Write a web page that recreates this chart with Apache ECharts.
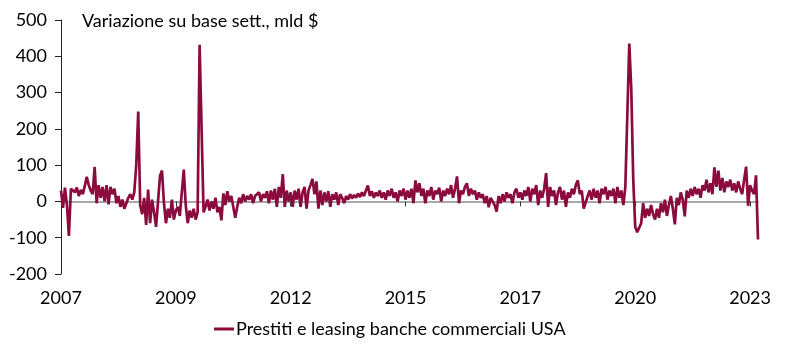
<!DOCTYPE html>
<html>
<head>
<meta charset="utf-8">
<script src="https://cdn.jsdelivr.net/npm/echarts@6/dist/echarts.min.js"></script>
<style>html,body{margin:0;padding:0;background:#fff}#c{width:800px;height:351px}</style>
</head>
<body>
<div id="c"></div>
<script>
// Weekly change in loans & leases, US commercial banks (bn $), sampled ~every 2.4 weeks, 2007 - Mar 2023
var values = [
  30, -18, 38, -10, -95, 35, 40, 25, 38, 15, 32, 20, 42, 68, 45, 30, 20, 95, -5,
  45, 10, 40, 0, 45, -8, 40, 20, 35, -5, 15, -15, 5, -20, -25, 10, 20, 5, 25, 100, 248, -10,
  -35, 10, -65, 33, -60, 5, -30, -70, 0, 70, 85, -5, -60, -20, -45, 5, -50, -25, -15, -40, -35, 88, -10, -60, -25, -45, -20, -50, -30, 432, 437, -30,
  -15, 5, -25, 0, -20, 10, -30, -15, -52, 22, -10, 28, 0, 15, -15, -45, -15, 10, -5, 20, 0, 15, 5, 20, -5, 15, 10, 25, 0, 20, 10, 28, -5, 30, 5, 35, -15, 40, 10, 75, -15, 30, 0, 25,
  -15, 30, 5, 35, -15, 25, 40, -20, 30, 45, 62, 20, 55, -20, 30, -10, 25, 0, 28, -15, 20, 5, 25, -10, 20, 10, -5, 15, 5, 20, 8, 18, 10, 22, 12, 25, 15, 30, 44, 15, 28, 10, 25, 15, 30, 10, 25, 5, 30, 15, 35, 10, 25, 0, 30, 15, 35, 5,
  30, 10, 35, -5, 58, 25, 50, 15, 35, -5, 30, 15, 40, 5, 30, 20, 38, 0, 30, 15, 35, 20, 45, 10, 35, 69, -5, 30, 20, 40, 50, 15, 35, 20, 30, 5, 25, 10, 20, -5, 15, -16, 10, 5, -10, -28, 15, -5, 20, 0, 25, 10, 20, -5, 25, 35, 10, 25,
  5, 30, 15, 40, 0, 35, 20, 45, -10, 30, 10, 35, 78, -15, 40, 15, 30, -10, 25, 40, 5, 30, -15, 25, 10, 35, 20, 45, 58, 20, 30, -20, -22, 15, 30, 5, 35, 10, 30, -5, 35, 20, 40, 5, 30, 15, 35, -5, 40, 10, 30, -10, 40, 45, 435, 310, 60, -70, -85,
  -80, -60, -5, -45, -20, -40, -10, -35, -50, -20, -45, -5, -30, 5, -40, -10, 15, -20, -63, 10, -10, 25, 5, -41, 30, 10, 35, 15, 40, 20, 35, 10, 45, 30, 60, 25, 50, 20, 94, 40, 85, 30, 65, 25, 55, 40, 60, 30, 50, 25, 55, 35, 20, 60, 96, -12, 45, 30, 20, 72, -105
];
var tickLabels = ['2007', '2009', '2012', '2015', '2017', '2020', '2023'];
var labelStep = 58;
var categories = values.map(function (_, i) { return i; });
var seriesName = 'Prestiti e leasing banche commerciali USA';
var titleText = 'Variazione su base sett., mld $';

var chart = echarts.init(document.getElementById('c'), null, {renderer: 'canvas'});
var font = 'Lato, "Noto Sans", sans-serif';
chart.setOption({
  animation: false,
  title: {
    text: titleText, left: 82, top: 12, padding: 0,
    textStyle: {fontFamily: font, fontSize: 18, fontWeight: 'normal', color: '#000'}
  },
  legend: {
    data: [seriesName], left: 214, top: 320, padding: 0, icon: 'rect', itemWidth: 20, itemHeight: 3, itemGap: 4,
    textStyle: {fontFamily: font, fontSize: 18, color: '#000', padding: [0, 0, 0, -3]}
  },
  grid: {left: 61, right: 42, top: 20, bottom: 77, containLabel: false, outerBoundsMode: 'none'},
  xAxis: [{
    type: 'category', data: categories, boundaryGap: false,
    axisLine: {show: true, onZero: true, lineStyle: {color: '#8c8c8c', width: 1.5}},
    axisTick: {show: true, interval: labelStep - 1, length: 5, lineStyle: {color: '#333', width: 1}},
    axisLabel: {show: false},
    splitLine: {show: false}
  }, {
    type: 'category', data: categories, boundaryGap: false, position: 'bottom',
    axisLine: {show: false, onZero: false},
    axisTick: {show: false},
    axisLabel: {
      show: true, interval: labelStep - 1, margin: 15, fontFamily: font, fontSize: 18, color: '#000',
      formatter: function (v, i) { return tickLabels[Math.round(i / labelStep)] || ''; }
    },
    splitLine: {show: false}
  }],
  yAxis: {
    type: 'value', min: -200, max: 500, interval: 100,
    axisLine: {show: true, lineStyle: {color: '#222', width: 1}},
    axisTick: {show: true, length: 6, lineStyle: {color: '#222'}},
    axisLabel: {fontFamily: font, fontSize: 18, color: '#000', margin: 14},
    splitLine: {show: false}
  },
  series: [{
    name: seriesName, type: 'line', data: values, showSymbol: false, symbol: 'none',
    lineStyle: {color: '#8c0b3f', width: 2.7}, itemStyle: {color: '#8c0b3f'}
  }]
});
</script>
</body>
</html>
